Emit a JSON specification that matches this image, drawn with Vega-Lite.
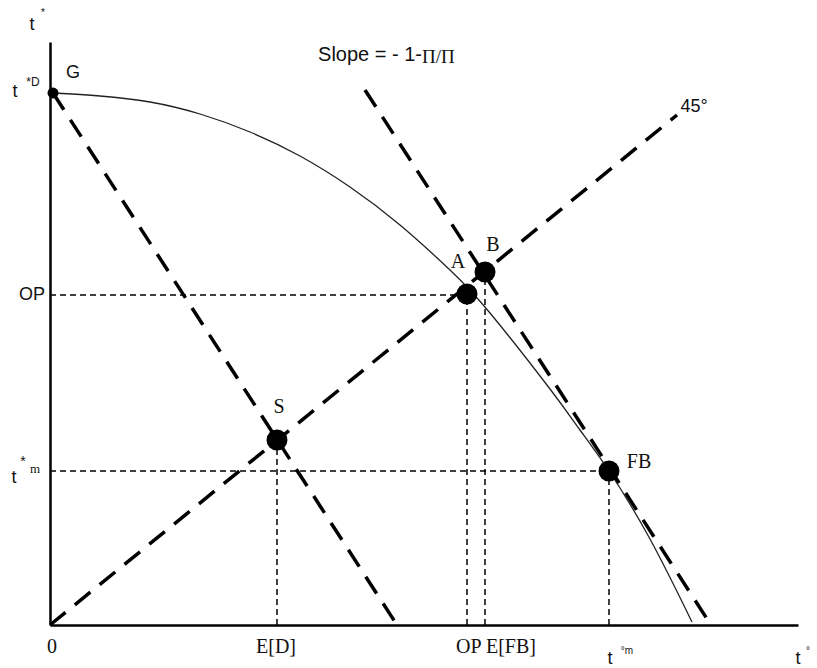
{
  "$schema": "https://vega.github.io/schema/vega-lite/v6.json",
  "width": 748,
  "height": 583,
  "autosize": {"type": "none"},
  "padding": {"left": 50, "top": 42, "right": 19, "bottom": 43},
  "background": "white",
  "config": {"view": {"stroke": null}},
  "datasets": {
    "curve": [
      {"x": 3, "y": 532}, {"x": 50, "y": 529}, {"x": 100, "y": 523}, {"x": 150, "y": 511},
      {"x": 200, "y": 493}, {"x": 250, "y": 469}, {"x": 300, "y": 438}, {"x": 350, "y": 400},
      {"x": 400, "y": 355}, {"x": 440, "y": 312}, {"x": 500, "y": 236}, {"x": 530, "y": 195},
      {"x": 559, "y": 154}, {"x": 600, "y": 86}, {"x": 642, "y": 3}
    ],
    "thick": [
      {"x": 0, "y": 0, "x2": 627, "y2": 510},
      {"x": 3, "y": 532, "x2": 347, "y2": 0},
      {"x": 315, "y": 535, "x2": 661, "y2": 0}
    ],
    "thin": [
      {"x": 0, "y": 330, "x2": 417, "y2": 330},
      {"x": 0, "y": 154, "x2": 559, "y2": 154},
      {"x": 227, "y": 0, "x2": 227, "y2": 185},
      {"x": 417, "y": 0, "x2": 417, "y2": 330},
      {"x": 435, "y": 0, "x2": 435, "y2": 353},
      {"x": 559, "y": 0, "x2": 559, "y2": 154}
    ],
    "bigdots": [
      {"x": 227, "y": 185, "name": "S"},
      {"x": 417, "y": 331, "name": "A"},
      {"x": 435, "y": 353, "name": "B"},
      {"x": 559, "y": 154, "name": "FB"}
    ],
    "smalldots": [{"x": 3, "y": 532, "name": "G"}],
    "sansBig": [
      {"x": -18, "y": 600, "text": "t"},
      {"x": -35, "y": 533, "text": "t"},
      {"x": 23, "y": 552, "text": "G"},
      {"x": -18, "y": 330, "text": "OP"},
      {"x": 644, "y": 518, "text": "45°"},
      {"x": -36, "y": 147, "text": "t"},
      {"x": 560, "y": -34, "text": "t"},
      {"x": 748, "y": -34, "text": "t"}
    ],
    "sansSmall": [
      {"x": -7, "y": 612, "text": "*"},
      {"x": 577, "y": -26, "text": "°m"},
      {"x": 758, "y": -26, "text": "°"}
    ],
    "sansD": [
      {"x": -17, "y": 543, "text": "*D"}
    ],
    "sansMid": [
      {"x": -27, "y": 163, "text": "*"}
    ],
    "serif": [
      {"x": 2, "y": -22, "text": "0"},
      {"x": 226, "y": -22, "text": "E[D]"},
      {"x": 446, "y": -22, "text": "OP E[FB]"},
      {"x": 408, "y": 363, "text": "A"},
      {"x": 443, "y": 380, "text": "B"},
      {"x": 229, "y": 218, "text": "S"},
      {"x": 589, "y": 163, "text": "FB"}
    ],
    "serifSmall": [
      {"x": -15, "y": 156, "text": "m"}
    ],
    "slopeSans": [{"x": 372, "y": 570, "text": "Slope = - 1-"}],
    "slopeSerif": [{"x": 372, "y": 568, "text": "Π/Π"}]
  },
  "layer": [
    {
      "data": {"name": "curve"},
      "mark": {"type": "line", "color": "#222", "strokeWidth": 1.3, "interpolate": "natural", "clip": false},
      "encoding": {
        "x": {"field": "x", "type": "quantitative", "scale": {"domain": [0, 748], "nice": false, "zero": false},
              "axis": {"domain": true, "domainColor": "black", "domainWidth": 2.5, "ticks": false, "labels": false, "grid": false, "title": null}},
        "y": {"field": "y", "type": "quantitative", "scale": {"domain": [0, 583], "nice": false, "zero": false},
              "axis": {"domain": true, "domainColor": "black", "domainWidth": 2.5, "ticks": false, "labels": false, "grid": false, "title": null}}
      }
    },
    {
      "data": {"name": "thick"},
      "mark": {"type": "rule", "color": "black", "strokeWidth": 3.5, "strokeDash": [20, 12]},
      "encoding": {
        "x": {"field": "x", "type": "quantitative"},
        "y": {"field": "y", "type": "quantitative"},
        "x2": {"field": "x2"},
        "y2": {"field": "y2"}
      }
    },
    {
      "data": {"name": "thin"},
      "mark": {"type": "rule", "color": "black", "strokeWidth": 1.5, "strokeDash": [6, 4]},
      "encoding": {
        "x": {"field": "x", "type": "quantitative"},
        "y": {"field": "y", "type": "quantitative"},
        "x2": {"field": "x2"},
        "y2": {"field": "y2"}
      }
    },
    {
      "data": {"name": "bigdots"},
      "mark": {"type": "circle", "color": "black", "opacity": 1, "size": 440},
      "encoding": {
        "x": {"field": "x", "type": "quantitative"},
        "y": {"field": "y", "type": "quantitative"}
      }
    },
    {
      "data": {"name": "smalldots"},
      "mark": {"type": "circle", "color": "black", "opacity": 1, "size": 120},
      "encoding": {
        "x": {"field": "x", "type": "quantitative"},
        "y": {"field": "y", "type": "quantitative"}
      }
    },
    {
      "data": {"name": "sansBig"},
      "mark": {"type": "text", "font": "Liberation Sans", "fontSize": 18, "color": "#111", "align": "center", "baseline": "middle"},
      "encoding": {
        "x": {"field": "x", "type": "quantitative"},
        "y": {"field": "y", "type": "quantitative"},
        "text": {"field": "text"}
      }
    },
    {
      "data": {"name": "sansSmall"},
      "mark": {"type": "text", "font": "Liberation Sans", "fontSize": 10, "color": "#111", "align": "center", "baseline": "middle"},
      "encoding": {
        "x": {"field": "x", "type": "quantitative"},
        "y": {"field": "y", "type": "quantitative"},
        "text": {"field": "text"}
      }
    },
    {
      "data": {"name": "sansD"},
      "mark": {"type": "text", "font": "Liberation Sans", "fontSize": 12, "color": "#111", "align": "center", "baseline": "middle"},
      "encoding": {
        "x": {"field": "x", "type": "quantitative"},
        "y": {"field": "y", "type": "quantitative"},
        "text": {"field": "text"}
      }
    },
    {
      "data": {"name": "sansMid"},
      "mark": {"type": "text", "font": "Liberation Sans", "fontSize": 14, "color": "#111", "align": "center", "baseline": "middle"},
      "encoding": {
        "x": {"field": "x", "type": "quantitative"},
        "y": {"field": "y", "type": "quantitative"},
        "text": {"field": "text"}
      }
    },
    {
      "data": {"name": "serif"},
      "mark": {"type": "text", "font": "Liberation Serif", "fontSize": 20, "color": "#111", "align": "center", "baseline": "middle"},
      "encoding": {
        "x": {"field": "x", "type": "quantitative"},
        "y": {"field": "y", "type": "quantitative"},
        "text": {"field": "text"}
      }
    },
    {
      "data": {"name": "serifSmall"},
      "mark": {"type": "text", "font": "Liberation Serif", "fontSize": 13, "color": "#111", "align": "center", "baseline": "middle"},
      "encoding": {
        "x": {"field": "x", "type": "quantitative"},
        "y": {"field": "y", "type": "quantitative"},
        "text": {"field": "text"}
      }
    },
    {
      "data": {"name": "slopeSans"},
      "mark": {"type": "text", "font": "Liberation Sans", "fontSize": 20, "color": "#111", "align": "right", "baseline": "middle"},
      "encoding": {
        "x": {"field": "x", "type": "quantitative"},
        "y": {"field": "y", "type": "quantitative"},
        "text": {"field": "text"}
      }
    },
    {
      "data": {"name": "slopeSerif"},
      "mark": {"type": "text", "font": "Liberation Serif", "fontSize": 19, "color": "#111", "align": "left", "baseline": "middle"},
      "encoding": {
        "x": {"field": "x", "type": "quantitative"},
        "y": {"field": "y", "type": "quantitative"},
        "text": {"field": "text"}
      }
    }
  ]
}
